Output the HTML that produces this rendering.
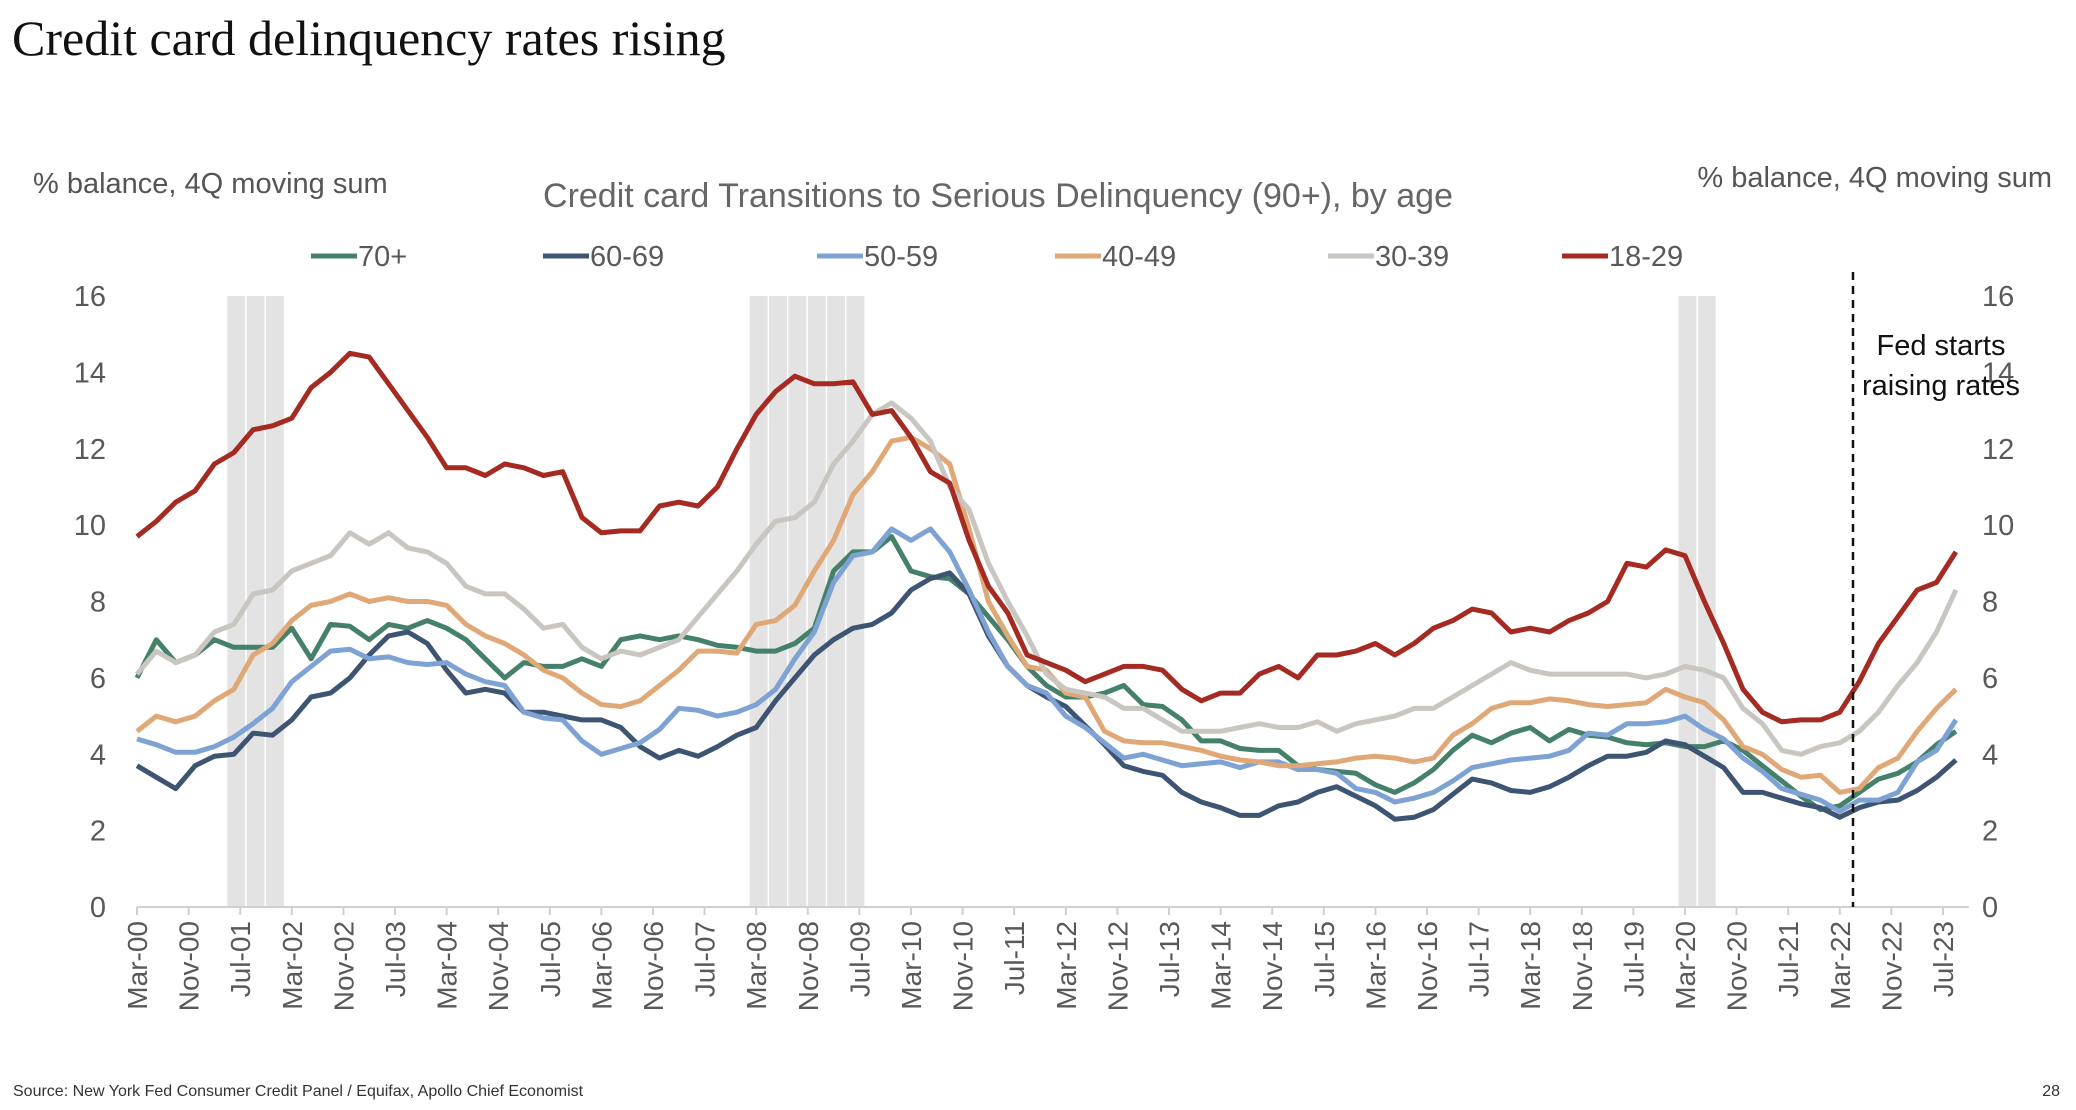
<!DOCTYPE html>
<html><head><meta charset="utf-8">
<style>
body{margin:0;background:#fff;}
svg{display:block;font-family:"Liberation Sans",sans-serif;}
</style></head>
<body>
<svg id="chart" width="2076" height="1110" viewBox="0 0 2076 1110" xmlns="http://www.w3.org/2000/svg">
<text x="12" y="55" font-family="Liberation Serif,serif" font-size="50" fill="#111">Credit card delinquency rates rising</text>
<text x="33" y="193" font-size="29" fill="#555">% balance, 4Q moving sum</text>
<text x="2052" y="187" font-size="29" fill="#555" text-anchor="end">% balance, 4Q moving sum</text>
<text x="998" y="207" font-size="34" fill="#666" text-anchor="middle">Credit card Transitions to Serious Delinquency (90+), by age</text>
<g id="bands"></g>
<g id="axes"></g>
<g id="series"></g>
<g id="legend"></g>
<line x1="1853" y1="272" x2="1853" y2="907" stroke="#111" stroke-width="2.5" stroke-dasharray="8,6"/>
<text x="1941" y="355" font-size="29" fill="#111" text-anchor="middle">Fed starts</text>
<text x="1941" y="395" font-size="29" fill="#111" text-anchor="middle">raising rates</text>
<text x="13" y="1096" font-size="16" fill="#333">Source: New York Fed Consumer Credit Panel / Equifax, Apollo Chief Economist</text>
<text x="2060" y="1096" font-size="16" fill="#333" text-anchor="end">28</text>
</svg>
<script>
const seriesNames = ["70+","60-69","50-59","40-49","30-39","18-29"];
const seriesColors = ["#44806a","#3e5473","#7da2d3","#e0a877","#c9c5c0","#a52a22"];
const s70 = [6.0,7.0,6.4,6.6, 7.0,6.8,6.8,6.8, 7.3,6.5,7.4,7.35, 7.0,7.4,7.3,7.5, 7.3,7.0,6.5,6.0, 6.4,6.3,6.3,6.5, 6.3,7.0,7.1,7.0, 7.1,7.0,6.85,6.8, 6.7,6.7,6.9,7.3, 8.8,9.3,9.3,9.7, 8.8,8.65,8.6,8.2, 7.6,7.0,6.3,5.8, 5.5,5.5,5.6,5.8, 5.3,5.25,4.9,4.35, 4.35,4.15,4.1,4.1, 3.7,3.6,3.55,3.5, 3.2,3.0,3.25,3.6, 4.1,4.5,4.3,4.55, 4.7,4.35,4.65,4.5, 4.45,4.3,4.25,4.3, 4.2,4.2,4.35,4.1, 3.7,3.3,2.9,2.55, 2.65,3.0,3.35,3.5, 3.8,4.25,4.6];
const s60 = [3.7,3.4,3.1,3.7, 3.95,4.0,4.55,4.5, 4.9,5.5,5.6,6.0, 6.6,7.1,7.2,6.9, 6.2,5.6,5.7,5.6, 5.1,5.1,5.0,4.9, 4.9,4.7,4.2,3.9, 4.1,3.95,4.2,4.5, 4.7,5.4,6.0,6.6, 7.0,7.3,7.4,7.7, 8.3,8.6,8.75,8.2, 7.1,6.3,5.8,5.5, 5.25,4.75,4.25,3.7, 3.55,3.45,3.0,2.75, 2.6,2.4,2.4,2.65, 2.75,3.0,3.15,2.9, 2.65,2.3,2.35,2.55, 2.95,3.35,3.25,3.05, 3.0,3.15,3.4,3.7, 3.95,3.95,4.05,4.35, 4.25,3.95,3.65,3.0, 3.0,2.85,2.7,2.6, 2.35,2.6,2.75,2.8, 3.05,3.4,3.85];
const s50 = [4.4,4.25,4.05,4.05, 4.2,4.45,4.8,5.2, 5.9,6.3,6.7,6.75, 6.5,6.55,6.4,6.35, 6.4,6.1,5.9,5.8, 5.1,4.95,4.9,4.35, 4.0,4.15,4.3,4.65, 5.2,5.15,5.0,5.1, 5.3,5.7,6.5,7.2, 8.5,9.2,9.3,9.9, 9.6,9.9,9.3,8.3, 7.2,6.3,5.8,5.6, 5.0,4.7,4.3,3.9, 4.0,3.85,3.7,3.75, 3.8,3.65,3.8,3.8, 3.6,3.6,3.5,3.1, 3.0,2.75,2.85,3.0, 3.3,3.65,3.75,3.85, 3.9,3.95,4.1,4.55, 4.5,4.8,4.8,4.85, 5.0,4.65,4.4,3.9, 3.55,3.1,2.95,2.8, 2.5,2.8,2.8,3.0, 3.8,4.1,4.9];
const s40 = [4.6,5.0,4.85,5.0, 5.4,5.7,6.6,6.9, 7.5,7.9,8.0,8.2, 8.0,8.1,8.0,8.0, 7.9,7.4,7.1,6.9, 6.6,6.2,6.0,5.6, 5.3,5.25,5.4,5.8, 6.2,6.7,6.7,6.65, 7.4,7.5,7.9,8.8, 9.6,10.8,11.4,12.2, 12.3,12.0,11.6,9.9, 8.0,7.1,6.3,6.2, 5.6,5.5,4.6,4.35, 4.3,4.3,4.2,4.1, 3.95,3.85,3.8,3.7, 3.7,3.75,3.8,3.9, 3.95,3.9,3.8,3.9, 4.5,4.8,5.2,5.35, 5.35,5.45,5.4,5.3, 5.25,5.3,5.35,5.7, 5.5,5.35,4.9,4.2, 4.0,3.6,3.4,3.45, 3.0,3.1,3.65,3.9, 4.6,5.2,5.7];
const s30 = [6.1,6.7,6.4,6.6, 7.2,7.4,8.2,8.3, 8.8,9.0,9.2,9.8, 9.5,9.8,9.4,9.3, 9.0,8.4,8.2,8.2, 7.8,7.3,7.4,6.8, 6.5,6.7,6.6,6.8, 7.0,7.6,8.2,8.8, 9.5,10.1,10.2,10.6, 11.6,12.2,12.9,13.2, 12.8,12.2,11.0,10.4, 9.0,8.0,7.1,6.1, 5.7,5.6,5.5,5.2, 5.2,4.9,4.6,4.6, 4.6,4.7,4.8,4.7, 4.7,4.85,4.6,4.8, 4.9,5.0,5.2,5.2, 5.5,5.8,6.1,6.4, 6.2,6.1,6.1,6.1, 6.1,6.1,6.0,6.1, 6.3,6.2,6.0,5.2, 4.8,4.1,4.0,4.2, 4.3,4.6,5.1,5.8, 6.4,7.2,8.3];
const s18 = [9.7,10.1,10.6,10.9, 11.6,11.9,12.5,12.6, 12.8,13.6,14.0,14.5, 14.4,13.7,13.0,12.3, 11.5,11.5,11.3,11.6, 11.5,11.3,11.4,10.2, 9.8,9.85,9.85,10.5, 10.6,10.5,11.0,12.0, 12.9,13.5,13.9,13.7, 13.7,13.75,12.9,13.0, 12.3,11.4,11.1,9.6, 8.4,7.7,6.6,6.4, 6.2,5.9,6.1,6.3, 6.3,6.2,5.7,5.4, 5.6,5.6,6.1,6.3, 6.0,6.6,6.6,6.7, 6.9,6.6,6.9,7.3, 7.5,7.8,7.7,7.2, 7.3,7.2,7.5,7.7, 8.0,9.0,8.9,9.35, 9.2,8.0,6.9,5.7, 5.1,4.85,4.9,4.9, 5.1,5.9,6.9,7.6, 8.3,8.5,9.3];
const yTicks = [0,2,4,6,8,10,12,14,16];
const monthNames = ["Jan","Feb","Mar","Apr","May","Jun","Jul","Aug","Sep","Oct","Nov","Dec"];
// recession periods as month offsets from Mar-2000
const recessions = [[14,23],[95,113],[239,245]];

const NS="http://www.w3.org/2000/svg";
const X0=137, PXM=6.45, Y0=907, PXU=611/16;
const xM = m => X0 + m*PXM;
const yV = v => Y0 - v*PXU;
function mk(tag, attrs, parent){const e=document.createElementNS(NS,tag);for(const k in attrs)e.setAttribute(k,attrs[k]);parent.appendChild(e);return e;}

const bands=document.getElementById('bands');
recessions.forEach(r=>{
  for(let m=r[0]; m<r[1]; m+=3){
    const w=Math.min(3,r[1]-m)*PXM;
    const b=mk('rect',{x:xM(m),y:yV(16),width:w-1.5,height:yV(0)-yV(16),fill:'#e3e3e3'},bands);
    
    
  }
});

const axes=document.getElementById('axes');
const ax=mk('line',{x1:X0,y1:Y0,x2:xM(284),y2:Y0,stroke:'#d0d0d0','stroke-width':2},axes);


yTicks.forEach(v=>{
  const t=mk('text',{x:106,y:yV(v)+10,'font-size':29,fill:'#595959','text-anchor':'end'},axes);
  t.textContent=v;
  
  
  const t2=mk('text',{x:1982,y:yV(v)+10,'font-size':29,fill:'#595959'},axes);
  t2.textContent=v;
  
  
});
for(let m=0;m<=280;m+=8){
  const mm=(2+m)%12, yr=(Math.floor((2+m)/12))%100;
  const lbl=monthNames[mm]+'-'+String(yr).padStart(2,'0');
  const tk=mk('line',{x1:xM(m),y1:Y0,x2:xM(m),y2:Y0+8,stroke:'#d0d0d0','stroke-width':2},axes);
  
  
  const t=mk('text',{x:0,y:0,'font-size':28,fill:'#595959','text-anchor':'end',transform:`translate(${xM(m)+10},${Y0+14}) rotate(-90)`},axes);
  t.textContent=lbl;
  
  
}

const data=[s70,s60,s50,s40,s30,s18];
const ser=document.getElementById('series');
data.forEach((arr,k)=>{
  const pts=arr.map((v,i)=>xM(3*i).toFixed(1)+','+yV(v).toFixed(1)).join(' ');
  const p=mk('polyline',{points:pts,fill:'none',stroke:seriesColors[k],'stroke-width':5,'stroke-linejoin':'round'},ser);
  
  
});

const leg=document.getElementById('legend');
const legX=[311,543,817,1055,1328,1562];
seriesNames.forEach((n,k)=>{
  const g=mk('g',{},leg);
  
  
  mk('line',{x1:legX[k],y1:256,x2:legX[k]+46,y2:256,stroke:seriesColors[k],'stroke-width':5},g);
  const t=mk('text',{x:legX[k]+47,y:266,'font-size':29,fill:'#595959'},g);
  t.textContent=n;
});
</script>
</body></html>
